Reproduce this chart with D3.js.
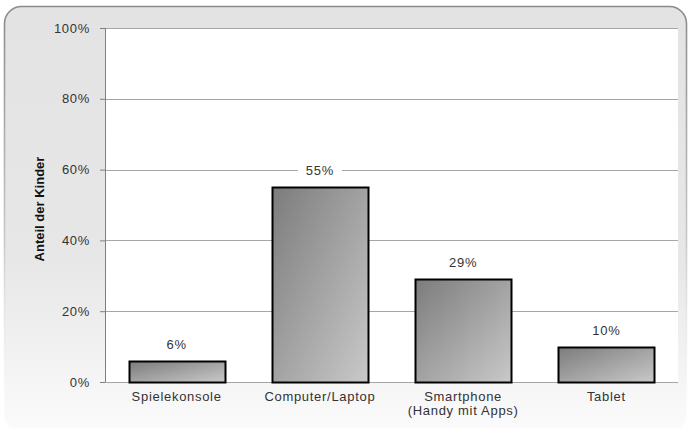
<!DOCTYPE html>
<html>
<head>
<meta charset="utf-8">
<script src="https://cdn.jsdelivr.net/npm/d3@7"></script>
<style>
  html, body { margin: 0; padding: 0; background: #ffffff; }
  svg { display: block; font-family: "Liberation Sans", Arial, sans-serif; }
</style>
</head>
<body>
<svg id="chart" width="689" height="428"></svg>
<script>
// Geräte, die Kinder nutzen (Anteil in Prozent)
const categories = ["Spielekonsole", "Computer/Laptop", "Smartphone\n(Handy mit Apps)", "Tablet"];
const values = [6, 55, 29, 10];
const yTicks = [0, 20, 40, 60, 80, 100];
const yTitle = "Anteil der Kinder";

const svg = d3.select("#chart");
const W = 689, H = 428;
const m = { left: 105, right: 11, top: 28, bottom: 46 };
const plotW = W - m.left - m.right;
const plotH = H - m.top - m.bottom;
const FS = 13, LS = 0.7;

const defs = svg.append("defs");
const bg = defs.append("linearGradient").attr("id", "bgGrad")
  .attr("x1", 0).attr("y1", 0).attr("x2", 0).attr("y2", 1);
bg.append("stop").attr("offset", 0).attr("stop-color", "#e3e3e3");
bg.append("stop").attr("offset", 0.6).attr("stop-color", "#e7e7e7");
bg.append("stop").attr("offset", 1).attr("stop-color", "#fbfbfb");

const barGrad = defs.append("linearGradient").attr("id", "barGrad")
  .attr("x1", 0).attr("y1", 0).attr("x2", 1).attr("y2", 1);
barGrad.append("stop").attr("offset", 0).attr("stop-color", "#7c7c7c");
barGrad.append("stop").attr("offset", 1).attr("stop-color", "#c9c9c9");

const edgeGrad = defs.append("linearGradient").attr("id", "edgeGrad")
  .attr("x1", 0).attr("y1", 0).attr("x2", 0).attr("y2", 1);
edgeGrad.append("stop").attr("offset", 0).attr("stop-color", "#8a8a8a");
edgeGrad.append("stop").attr("offset", 0.55).attr("stop-color", "#c8c8c8");
edgeGrad.append("stop").attr("offset", 1).attr("stop-color", "#ffffff").attr("stop-opacity", 0);

// Rahmen mit abgerundeten Ecken
svg.append("rect")
  .attr("x", 4.5).attr("y", 6.5)
  .attr("width", 682).attr("height", 425)
  .attr("rx", 17).attr("ry", 17)
  .attr("fill", "url(#bgGrad)")
  .attr("stroke", "url(#edgeGrad)")
  .attr("stroke-width", 1.6);

const g = svg.append("g").attr("transform", `translate(${m.left},${m.top})`);

// Zeichenfläche
g.append("rect").attr("width", plotW).attr("height", plotH).attr("fill", "#ffffff");

const x = d3.scaleBand().domain(categories).range([0, plotW]).paddingInner(0.33).paddingOuter(0.165);
const y = d3.scaleLinear().domain([0, 100]).range([plotH, 0]);

// Gitterlinien
g.append("g").selectAll("line").data(yTicks).join("line")
  .attr("x1", 0).attr("x2", plotW)
  .attr("y1", d => Math.round(y(d)) + 0.5).attr("y2", d => Math.round(y(d)) + 0.5)
  .attr("stroke", "#a6a6a6").attr("stroke-width", 1);

// y-Achse
const yAxis = g.append("g")
  .call(d3.axisLeft(y).tickValues(yTicks).tickFormat(d => d + "%").tickSize(5).tickPadding(10));
yAxis.select(".domain").attr("stroke", "#7f7f7f").attr("d", `M0.5,${plotH}V0`);
yAxis.selectAll(".tick line").attr("stroke", "#7f7f7f");
yAxis.selectAll(".tick text").attr("font-size", FS).attr("letter-spacing", LS)
  .attr("fill", "#333").attr("font-family", "Liberation Sans, Arial, sans-serif");

// Achsentitel
svg.append("text")
  .attr("transform", `translate(44,209) rotate(-90)`)
  .attr("text-anchor", "middle")
  .attr("font-size", 13).attr("font-weight", "bold").attr("fill", "#111")
  .text(yTitle);

// Balken
g.append("g").selectAll("rect").data(values).join("rect")
  .attr("x", (d, i) => Math.round(x(categories[i])) + 0.5)
  .attr("y", d => Math.round(y(d)) + 0.5)
  .attr("width", Math.round(x.bandwidth()))
  .attr("height", d => Math.round(plotH - y(d)))
  .attr("fill", "url(#barGrad)")
  .attr("stroke", "#000").attr("stroke-width", 2);

// Werte über den Balken (mit weißem Hintergrund)
const labels = g.append("g").selectAll("g").data(values).join("g")
  .attr("transform", (d, i) => `translate(${x(categories[i]) + x.bandwidth() / 2},${y(d) - 12})`);
labels.append("rect")
  .attr("x", -22).attr("y", -12).attr("width", 44).attr("height", 16)
  .attr("fill", "#ffffff");
labels.append("text")
  .attr("text-anchor", "middle")
  .attr("font-size", FS).attr("letter-spacing", LS).attr("fill", "#333")
  .text(d => d + "%");

// Kategorienbeschriftung
const cat = g.append("g").selectAll("text").data(categories).join("text")
  .attr("x", d => x(d) + x.bandwidth() / 2)
  .attr("y", plotH + 19)
  .attr("text-anchor", "middle")
  .attr("font-size", FS).attr("letter-spacing", LS).attr("fill", "#333");
cat.each(function(d) {
  const lines = d.split("\n");
  d3.select(this).selectAll("tspan").data(lines).join("tspan")
    .attr("x", x(d) + x.bandwidth() / 2)
    .attr("dy", (l, i) => i === 0 ? 0 : 14)
    .text(l => l);
});
</script>
</body>
</html>
